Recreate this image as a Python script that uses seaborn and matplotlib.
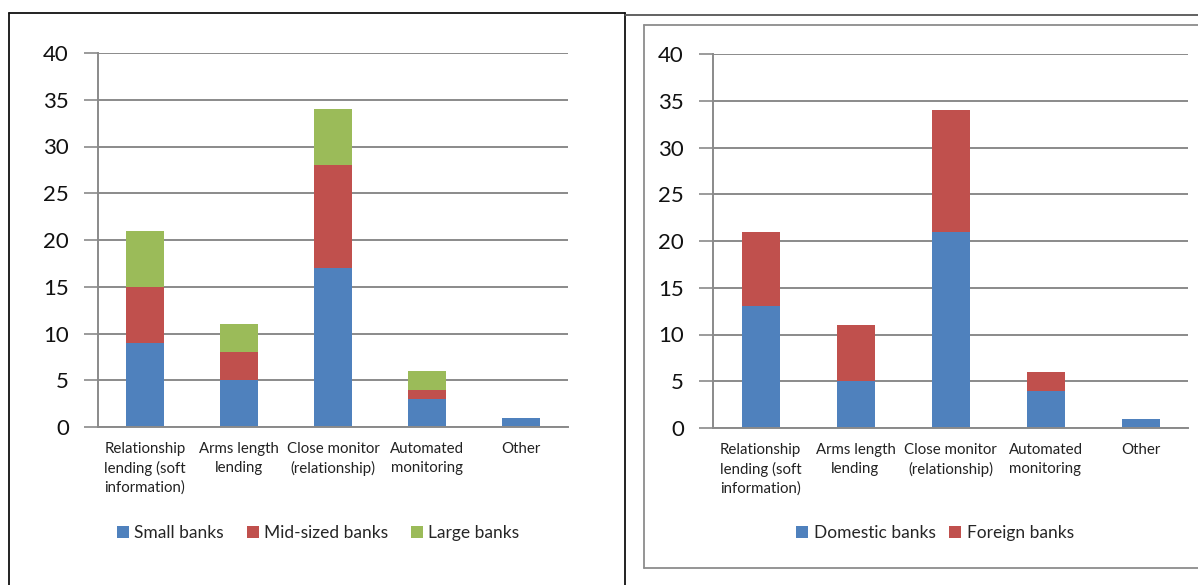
import numpy as np
import pandas as pd
import matplotlib
matplotlib.use("Agg")
import matplotlib.pyplot as plt
from matplotlib.lines import Line2D
from matplotlib.patches import Patch
import seaborn as sns

sns.set_theme(style="white")
plt.rcParams["font.family"] = ["Lato", "DejaVu Sans"]

categories = [
    "Relationship\nlending (soft\ninformation)",
    "Arms length\nlending",
    "Close monitor\n(relationship)",
    "Automated\nmonitoring",
    "Other",
]

# Left chart: by bank size
small_banks = [9, 5, 17, 3, 1]
mid_banks = [6, 3, 11, 1, 0]
large_banks = [6, 3, 6, 2, 0]

# Right chart: by ownership
domestic_banks = [13, 5, 21, 4, 1]
foreign_banks = [8, 6, 13, 2, 0]

y_ticks = [0, 5, 10, 15, 20, 25, 30, 35, 40]

BLUE = "#4F81BD"
RED = "#C0504D"
GREEN = "#9BBB59"
GRID = "#8A8A8A"

W, H = 1198, 585
fig = plt.figure(figsize=(W / 100, H / 100), dpi=100)


def px_axes(x0, y_top, x1, y_bottom):
    return fig.add_axes([x0 / W, 1 - y_bottom / H, (x1 - x0) / W, (y_bottom - y_top) / H])


def stacked(ax, series, colors, names):
    cum = np.cumsum(np.array(series, dtype=float), axis=0)
    # draw tallest cumulative layer first so lower segments sit on top
    for level in range(len(series) - 1, -1, -1):
        df = pd.DataFrame({"cat": categories, "val": cum[level]})
        sns.barplot(data=df, x="cat", y="val", color=colors[level], width=0.4,
                    saturation=1, ax=ax, order=categories)
    for p in ax.patches:
        p.set_edgecolor("none")
    ax.set_xlim(-0.5, len(categories) - 0.5)
    ax.set_ylim(0, 40)
    ax.set_yticks(y_ticks)
    ax.set_yticklabels([str(t) for t in y_ticks], fontsize=16, color="#111111")
    ax.set_xlabel("")
    ax.set_ylabel("")
    ax.set_xticks(range(len(categories)))
    ax.set_xticklabels(categories, fontsize=10.8, color="#222222", linespacing=1.4)
    ax.set_xticks(np.arange(-0.5, len(categories)), minor=True)
    ax.tick_params(axis="x", which="major", length=0, pad=11)
    ax.tick_params(axis="x", which="minor", length=5, width=1.2, color=GRID, direction="out")
    ax.tick_params(axis="y", length=10, width=1.2, color=GRID, direction="out", pad=11, left=True)
    ax.grid(axis="y", color=GRID, linewidth=1.4)
    ax.grid(axis="x", visible=False)
    ax.set_axisbelow(True)
    for side in ("top", "right"):
        ax.spines[side].set_visible(False)
    for side in ("left", "bottom"):
        ax.spines[side].set_color(GRID)
        ax.spines[side].set_linewidth(1.4)
    handles = [Patch(facecolor=c, edgecolor="none", label=n) for c, n in zip(colors, names)]
    return handles


ax1 = px_axes(98, 53, 568, 427)
h1 = stacked(ax1, [small_banks, mid_banks, large_banks], [BLUE, RED, GREEN],
             ["Small banks", "Mid-sized banks", "Large banks"])
fig.legend(handles=h1, loc="center", bbox_to_anchor=(318 / W, 1 - 533 / H), ncol=3,
           frameon=False, fontsize=12.5, handlelength=0.7, handleheight=0.7,
           handletextpad=0.3, columnspacing=1.3)

ax2 = px_axes(713, 54, 1188, 428)
h2 = stacked(ax2, [domestic_banks, foreign_banks], [BLUE, RED],
             ["Domestic banks", "Foreign banks"])
fig.legend(handles=h2, loc="center", bbox_to_anchor=(935 / W, 1 - 533 / H), ncol=2,
           frameon=False, fontsize=12.5, handlelength=0.7, handleheight=0.7,
           handletextpad=0.3, columnspacing=0.8)


def fig_line(xs, ys, color, lw):
    fig.add_artist(Line2D([x / W for x in xs], [1 - y / H for y in ys],
                          color=color, linewidth=lw, transform=fig.transFigure))


# panel borders
fig_line([9, 9], [13, 590], "#111111", 1.3)
fig_line([9, 625], [13, 13], "#111111", 1.3)
fig_line([625, 625], [13, 590], "#111111", 1.3)
fig_line([625, 1200], [15, 15], "#555555", 1.3)
fig_line([644, 644], [25, 568], "#8C8C8C", 1.3)
fig_line([644, 1200], [25, 25], "#8C8C8C", 1.3)
fig_line([644, 1200], [568, 568], "#8C8C8C", 1.3)

fig.savefig("out.png", dpi=100)
